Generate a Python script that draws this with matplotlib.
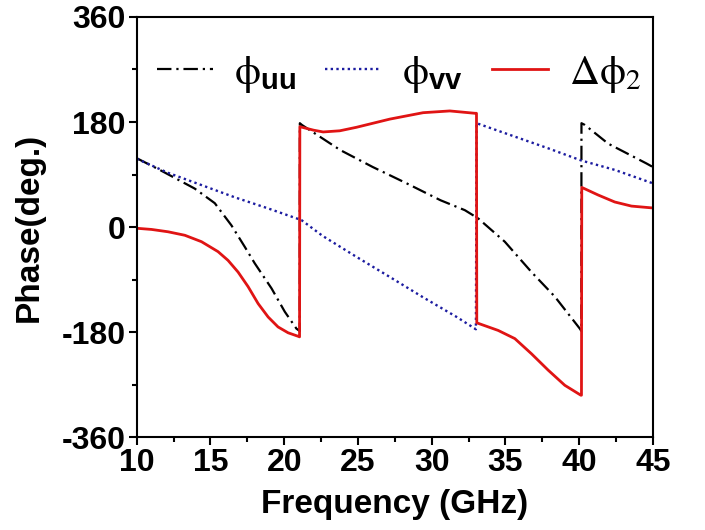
import matplotlib
matplotlib.use("Agg")
import matplotlib.pyplot as plt
from matplotlib.ticker import MultipleLocator

# phase of uu (dash-dot, black)
freq_uu = [10, 11.56, 13.93, 15.29, 16.42, 17.33, 18.0, 19.14, 20.04, 20.83, 21.05,
           21.06, 21.2, 23.8, 26.0, 28.3, 30.6, 32.25, 33.15, 34.96, 36.77, 38.35,
           40.05, 40.15, 40.16, 40.39, 41.97, 44.57, 45]
phi_uu = [118, 98, 66, 41, 3, -34, -62, -105, -145, -174, -178,
          178, 175, 132, 103, 75, 46, 29, 15, -25, -77, -119,
          -174, -178, 178, 175, 143, 109, 103]

# phase of vv (dotted, blue)
freq_vv = [10, 12.12, 14.39, 16.65, 18.91, 21.17, 22.6, 24.9, 27.2, 29.4, 31.7,
           33.0, 33.05, 35.64, 37.9, 40.16, 42.42, 45]
phi_vv = [117, 93, 72, 51, 32, 12, -15, -51, -86, -120, -154,
          -175, 178, 155, 135, 114, 98, 75]

# phase difference (solid, red)
freq_d = [10, 11.0, 12.12, 13.26, 14.39, 15.51, 16.19, 16.87, 17.55, 18.23, 18.91,
          19.58, 20.26, 20.94, 21.04, 21.06, 22.0, 22.64, 23.77, 24.9, 27.16, 29.42,
          31.23, 32.93, 33.04, 33.06, 34.51, 35.64, 36.77, 37.9, 39.03, 40.12,
          40.16, 40.18, 41.29, 42.42, 43.55, 44.9, 45]
dphi2 = [-2, -4, -8, -14, -25, -42, -57, -77, -102, -131, -154,
         -171, -181, -187, -188, 172, 166, 163, 165, 171, 185, 196,
         199, 195, 195, -164, -177, -191, -217, -245, -271, -288,
         -288, 68, 55, 43, 36, 33, 33]

plt.rcParams['font.family'] = ['Liberation Sans', 'DejaVu Sans']
plt.rcParams['axes.unicode_minus'] = False
plt.rcParams['mathtext.fontset'] = 'custom'
plt.rcParams['mathtext.rm'] = 'STIXGeneral'
plt.rcParams['mathtext.bf'] = 'Liberation Sans:bold'
plt.rcParams['mathtext.default'] = 'rm'

fig = plt.figure(figsize=(7.05, 5.30), dpi=100)
ax = fig.add_axes([0.194, 0.175, 0.732, 0.793])

ax.plot(freq_uu, phi_uu, color='black', lw=1.6, linestyle=(0, (6.5, 2.2, 1, 2.2)),
        label=r'$\phi_{\mathbf{uu}}$')
ax.plot(freq_vv, phi_vv, color='#1c1ca0', lw=1.7, linestyle=(0, (1, 1.4)),
        label=r'$\phi_{\mathbf{vv}}$')
ax.plot(freq_d, dphi2, color='#e01414', lw=2.0,
        label=r'$\Delta\phi_2$')

ax.set_xlim(10, 45)
ax.set_ylim(-360, 360)
ax.xaxis.set_major_locator(MultipleLocator(5))
ax.xaxis.set_minor_locator(MultipleLocator(2.5))
ax.yaxis.set_major_locator(MultipleLocator(180))
ax.yaxis.set_minor_locator(MultipleLocator(90))

ax.tick_params(which='major', direction='out', length=6, width=1.5,
               labelsize=23, top=False, right=False, pad=2)
ax.tick_params(which='minor', direction='out', length=3.5, width=1.5,
               top=False, right=False)
for lab in ax.get_xticklabels() + ax.get_yticklabels():
    lab.set_fontweight('bold')
for sp in ax.spines.values():
    sp.set_linewidth(1.5)

ax.set_xlabel('Frequency (GHz)', fontsize=24, fontweight='bold', labelpad=8)
ax.set_ylabel('Phase(deg.)', fontsize=24, fontweight='bold', labelpad=12)

ax.legend(loc='center left', bbox_to_anchor=(-0.01, 0.865), ncol=3, frameon=False,
          fontsize=30, handlelength=1.35, handletextpad=0.5, columnspacing=0.7,
          borderaxespad=0.2)

fig.savefig('out.png', dpi=100)
